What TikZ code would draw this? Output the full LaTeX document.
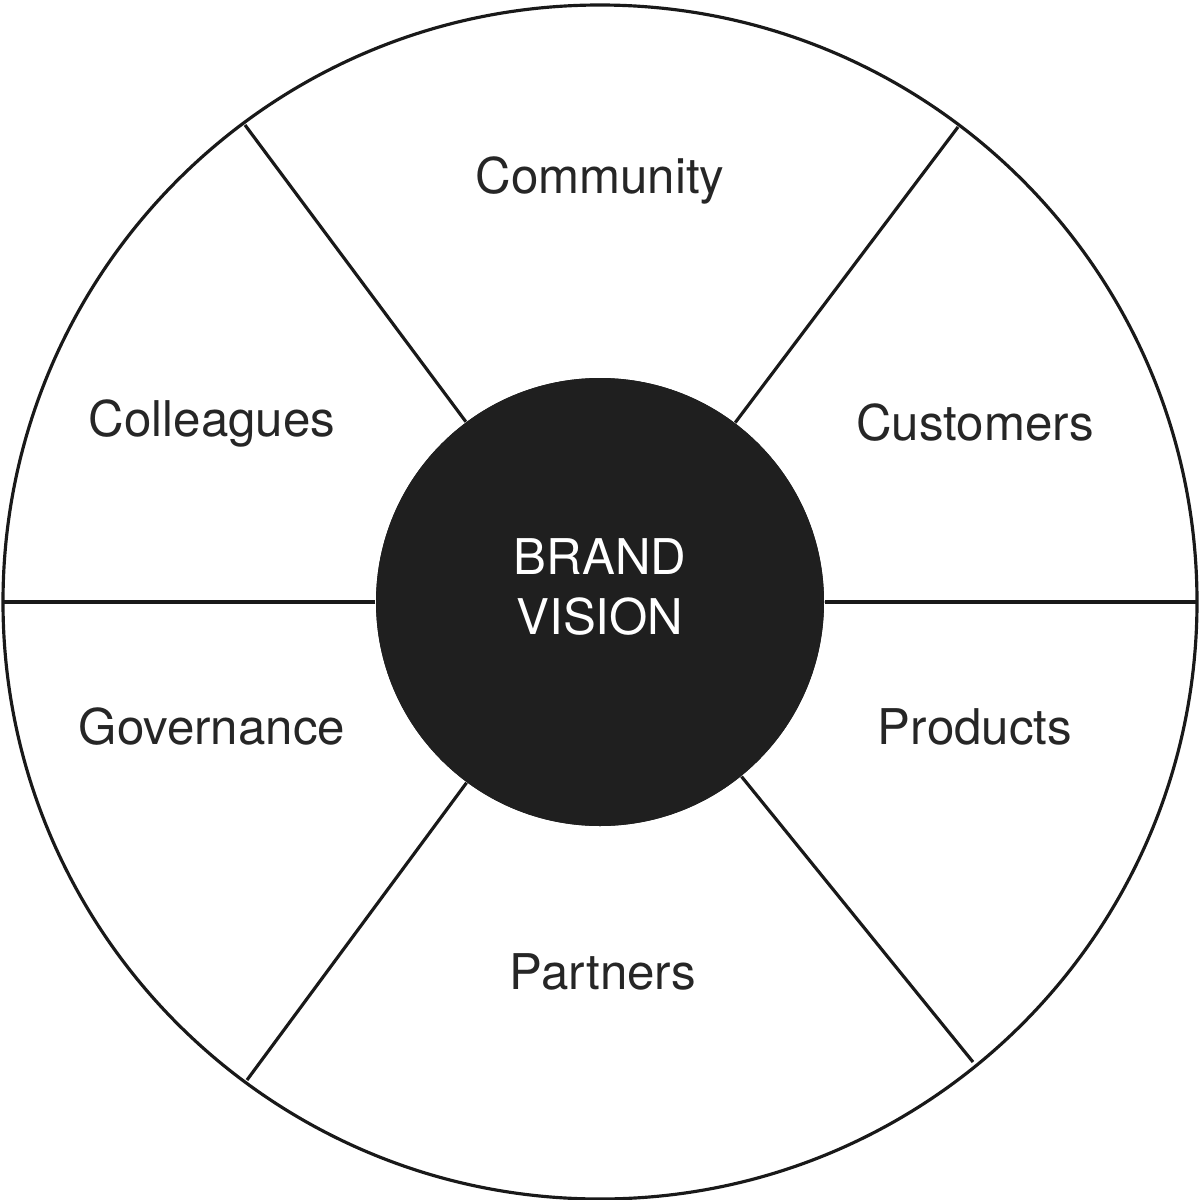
\documentclass[tikz,border=0pt]{standalone}
\usepackage{fontspec}
\setmainfont{TeX Gyre Heros}
\begin{document}
\begin{tikzpicture}[x=0.01cm,y=-0.01cm,
  lbl/.style={font=\fontsize{14}{16}\selectfont,text=black!85},
  ln/.style={line width=0.9pt,draw=black!90}]
\useasboundingbox (0,0) rectangle (1200,1200);
\coordinate (c) at (600,602);
\draw[ln] (c) circle[radius=597];
\coordinate (o1) at (245,125); \coordinate (o2) at (958,127);
\coordinate (o3) at (247,1080); \coordinate (o4) at (973,1062);
\coordinate (o5) at (2,602); \coordinate (o6) at (1198,602);
\node[circle,fill=black!88,minimum size=448*0.01cm,inner sep=0] (core) at (c) {};
\foreach \p in {o1,o2,o3,o4,o5,o6} \draw[ln] (core) -- (\p);
\node[circle,fill=black!88,minimum size=448*0.01cm,inner sep=0] at (c) {};
\node[lbl,text=white,align=center,font=\fontsize{14}{17}\selectfont] (bv) at (600,587) {BRAND\\VISION};
\node[lbl] (n1) at (600,180) {Community};
\node[lbl] (n2) at (212,423) {Colleagues};
\node[lbl] (n3) at (975,423) {Customers};
\node[lbl] (n4) at (212,727) {Governance};
\node[lbl] (n5) at (975,727) {Products};
\node[lbl] (n6) at (603,972) {Partners};
\end{tikzpicture}
\end{document}
